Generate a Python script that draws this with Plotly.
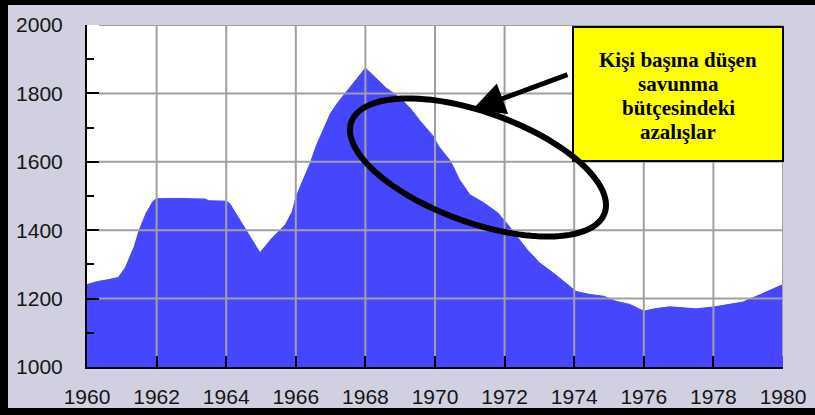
import math
import plotly.graph_objects as go

# ---- data ----
years = [1960.0, 1960.3, 1960.6, 1960.9, 1961.1, 1961.35, 1961.5, 1961.7, 1961.9, 1962.0,
         1962.5, 1963.0, 1963.4, 1963.5, 1964.0, 1964.1, 1964.5, 1964.97, 1965.3, 1965.7,
         1965.9, 1966.0, 1966.2, 1966.4, 1966.6, 1966.8, 1967.0, 1967.2, 1967.4, 1967.6,
         1967.8, 1968.0, 1968.3, 1968.6, 1968.75, 1969.0, 1969.3, 1969.6, 1969.95, 1970.1,
         1970.45, 1970.7, 1971.0, 1971.4, 1971.8, 1972.05, 1972.35, 1972.65, 1973.0, 1973.4,
         1973.75, 1974.05, 1974.45, 1974.85, 1975.2, 1975.6, 1976.0, 1976.3, 1976.75, 1977.5,
         1978.05, 1978.85, 1979.35, 1980.0]
values = [1241, 1250, 1255, 1262, 1290, 1350, 1400, 1450, 1485, 1492,
          1493, 1493, 1491, 1486, 1485, 1478, 1410, 1334, 1375, 1416,
          1455, 1495, 1545, 1592, 1650, 1698, 1742, 1772, 1797, 1822,
          1850, 1874, 1845, 1815, 1805, 1786, 1755, 1716, 1675, 1646,
          1601, 1548, 1504, 1480, 1451, 1422, 1382, 1343, 1305, 1275,
          1246, 1221, 1212, 1207, 1192, 1183, 1163, 1170, 1176, 1170,
          1176, 1190, 1212, 1241]

x_ticks = [1960, 1962, 1964, 1966, 1968, 1970, 1972, 1974, 1976, 1978, 1980]
y_ticks = [1000, 1200, 1400, 1600, 1800, 2000]
note_lines = ["Kişi başına düşen", "savunma", "bütçesindeki", "azalışlar"]

# ---- layout geometry ----
W, H = 815, 415
ML, MR, MT, MB = 87, 32, 25, 48
PW, PH = W - ML - MR, H - MT - MB
X_MIN, X_MAX = 1960, 1980
Y_MIN, Y_MAX = 1000, 2000
XTICK_LEN, YTICK_LEN = 11, 12


def px_to_paper(px, py):
    return (px - ML) / PW, (MT + PH - py) / PH


fig = go.Figure()
fig.add_trace(go.Scatter(
    x=years, y=values, mode="lines", fill="tozeroy",
    fillcolor="#4646ff", line=dict(color="#4646ff", width=1),
    hoverinfo="skip", showlegend=False))

shapes = []
grid_style = dict(color="#a0a0a0", width=2)
gy0 = Y_MIN + XTICK_LEN * (Y_MAX - Y_MIN) / PH
for xv in x_ticks[1:]:
    shapes.append(dict(type="line", xref="x", yref="y", x0=xv, x1=xv, y0=gy0, y1=Y_MAX,
                       line=grid_style, layer="above"))
gx0 = X_MIN + YTICK_LEN * (X_MAX - X_MIN) / PW
for yv in y_ticks[1:]:
    shapes.append(dict(type="line", xref="x", yref="y", x0=gx0, x1=X_MAX, y0=yv, y1=yv,
                       line=grid_style, layer="above"))

# black frame (left, top, bottom)
for (a, b, c, d) in [(0, 0, 8, H), (0, 0, W, 5), (0, H - 7, W, H)]:
    x0, y0 = px_to_paper(a, b)
    x1, y1 = px_to_paper(c, d)
    shapes.append(dict(type="rect", xref="paper", yref="paper", x0=x0, x1=x1, y0=y0, y1=y1,
                       fillcolor="black", line=dict(width=0), layer="above"))

# yellow note box
bx0, by0 = px_to_paper(573, 27)
bx1, by1 = px_to_paper(783, 161)
shapes.append(dict(type="rect", xref="paper", yref="paper", x0=bx0, x1=bx1, y0=by1, y1=by0,
                   fillcolor="#ffff00", line=dict(color="black", width=2), layer="above"))

# ellipse
cx, cy, ea, eb, th = 478, 167.5, 134.6, 55.1, math.radians(19.8)
pts = []
for i in range(121):
    t = 2 * math.pi * i / 120
    px = cx + ea * math.cos(th) * math.cos(t) - eb * math.sin(th) * math.sin(t)
    py = cy + ea * math.sin(th) * math.cos(t) + eb * math.cos(th) * math.sin(t)
    u, v = px_to_paper(px, py)
    pts.append(f"{u:.5f},{v:.5f}")
path = "M" + " L".join(pts) + " Z"
shapes.append(dict(type="path", xref="paper", yref="paper", path=path,
                   line=dict(color="black", width=6), layer="above"))

annotations = []
line_y = [60, 84, 108, 132]
for txt, py in zip(note_lines, line_y):
    u, v = px_to_paper(678, py)
    annotations.append(dict(xref="paper", yref="paper", x=u, y=v, text=f"<b>{txt}</b>",
                            showarrow=False, xanchor="center", yanchor="middle",
                            font=dict(family="Liberation Serif", size=21, color="black")))

tx, ty = px_to_paper(472, 110)
annotations.append(dict(xref="paper", yref="paper", x=tx, y=ty, text="", showarrow=True,
                        ax=97, ay=-36, arrowcolor="black", arrowwidth=5, arrowhead=2,
                        arrowsize=1.3, standoff=0, startstandoff=0))

tickfont = dict(family="Liberation Sans", size=21, color="#151515")
fig.update_layout(
    width=W, height=H, autosize=False,
    margin=dict(l=ML, r=MR, t=MT, b=MB, pad=0, autoexpand=False),
    paper_bgcolor="#d0d0e0", plot_bgcolor="white",
    shapes=shapes, annotations=annotations, showlegend=False,
    xaxis=dict(range=[X_MIN, X_MAX], tickvals=x_ticks, ticks="inside", ticklen=XTICK_LEN,
               tickwidth=2, tickcolor="black", showline=True, linecolor="black", linewidth=2,
               showgrid=False, zeroline=False, layer="above traces", tickfont=tickfont,
               ticklabelstandoff=10, automargin=False, fixedrange=True),
    yaxis=dict(range=[Y_MIN, Y_MAX], tickvals=y_ticks, ticks="inside", ticklen=YTICK_LEN,
               tickwidth=2, tickcolor="black", showline=True, linecolor="black", linewidth=2,
               showgrid=False, zeroline=False, layer="above traces", tickfont=tickfont,
               ticklabelstandoff=18, automargin=False, fixedrange=True,
               minor=dict(dtick=100, tick0=1000, ticks="inside", ticklen=7, tickwidth=2,
                          tickcolor="black", showgrid=False)),
)

page_fix = (
    "var h=document.documentElement.style,b=document.body.style;"
    "h.margin='0';h.padding='0';h.overflow='hidden';h.width='815px';h.height='415px';"
    "b.margin='0';b.padding='0';b.overflow='hidden';b.width='815px';b.height='415px';"
    "var gd=document.getElementById('{plot_id}');"
    "gd.style.position='fixed';gd.style.left='0px';gd.style.top='0px';"
)
fig.write_html("out.html", config={"displayModeBar": False}, post_script=page_fix)
